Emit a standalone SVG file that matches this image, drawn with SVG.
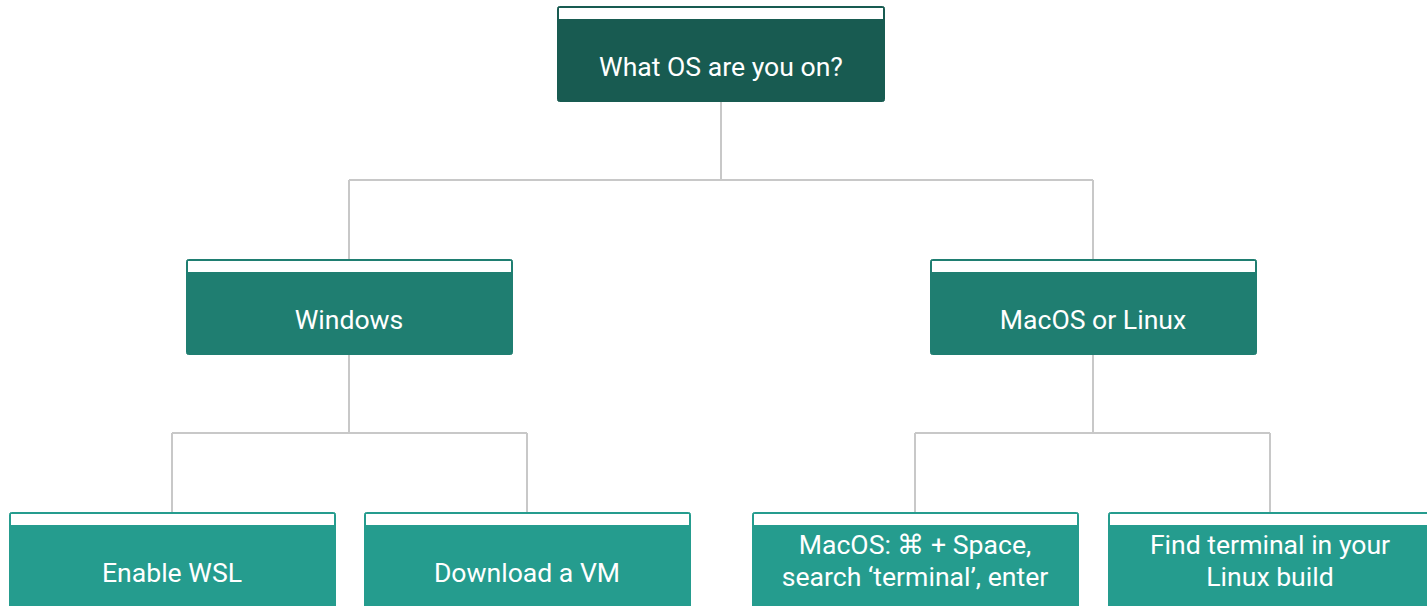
<svg xmlns="http://www.w3.org/2000/svg" width="1427" height="606" viewBox="0 0 1427 606">
<style>
.box{stroke-width:1.5}
.strip{fill:#ffffff}
.t{font-family:Roboto,"Liberation Sans",sans-serif;font-size:26.6px;fill:#ffffff;text-anchor:middle}
.c{fill:none;stroke:#c8c8c8;stroke-width:2}
</style>
<rect width="1427" height="606" fill="#ffffff"/>
<g id="connectors">
<path class="c" d="M721 102V180M349 180H1093M349 180V259M1093 180V259"/>
<path class="c" d="M349 355V433M172 433H527M172 433V512M527 433V512"/>
<path class="c" d="M1093 355V433M915 433H1270M915 433V512M1270 433V512"/>
</g>
<g id="n-root">
<rect x="557.5" y="6.5" width="327" height="95" rx="2" fill="#185b51" stroke="#185b51"/>
<rect x="559" y="8" width="324" height="11" class="strip"/>
<text class="t" x="721" y="76">What OS are you on?</text>
</g>
<g id="n-windows">
<rect x="186.5" y="259.5" width="326" height="95" rx="2" fill="#1f7e71" stroke="#1f7e71"/>
<rect x="188" y="261" width="323" height="11" class="strip"/>
<text class="t" x="349" y="329">Windows</text>
</g>
<g id="n-mac-linux">
<rect x="930.5" y="259.5" width="326" height="95" rx="2" fill="#1f7e71" stroke="#1f7e71"/>
<rect x="932" y="261" width="323" height="11" class="strip"/>
<text class="t" x="1093" y="329">MacOS or Linux</text>
</g>
<g id="n-wsl">
<rect x="9.5" y="512.5" width="326" height="100" rx="2" fill="#259c8e" stroke="#259c8e"/>
<rect x="11" y="514" width="323" height="11" class="strip"/>
<text class="t" x="172" y="582">Enable WSL</text>
</g>
<g id="n-vm">
<rect x="364.5" y="512.5" width="326" height="100" rx="2" fill="#259c8e" stroke="#259c8e"/>
<rect x="366" y="514" width="323" height="11" class="strip"/>
<text class="t" x="527" y="582">Download a VM</text>
</g>
<g id="n-macos">
<rect x="752.5" y="512.5" width="326" height="100" rx="2" fill="#259c8e" stroke="#259c8e"/>
<rect x="754" y="514" width="323" height="11" class="strip"/>
<text class="t" x="915" y="554">MacOS: ⌘ + Space,</text>
<text class="t" x="915" y="586">search ‘terminal’, enter</text>
</g>
<g id="n-linux">
<rect x="1108.5" y="512.5" width="326" height="100" rx="2" fill="#259c8e" stroke="#259c8e"/>
<rect x="1110" y="514" width="323" height="11" class="strip"/>
<text class="t" x="1270" y="554">Find terminal in your</text>
<text class="t" x="1270" y="586">Linux build</text>
</g>
</svg>
